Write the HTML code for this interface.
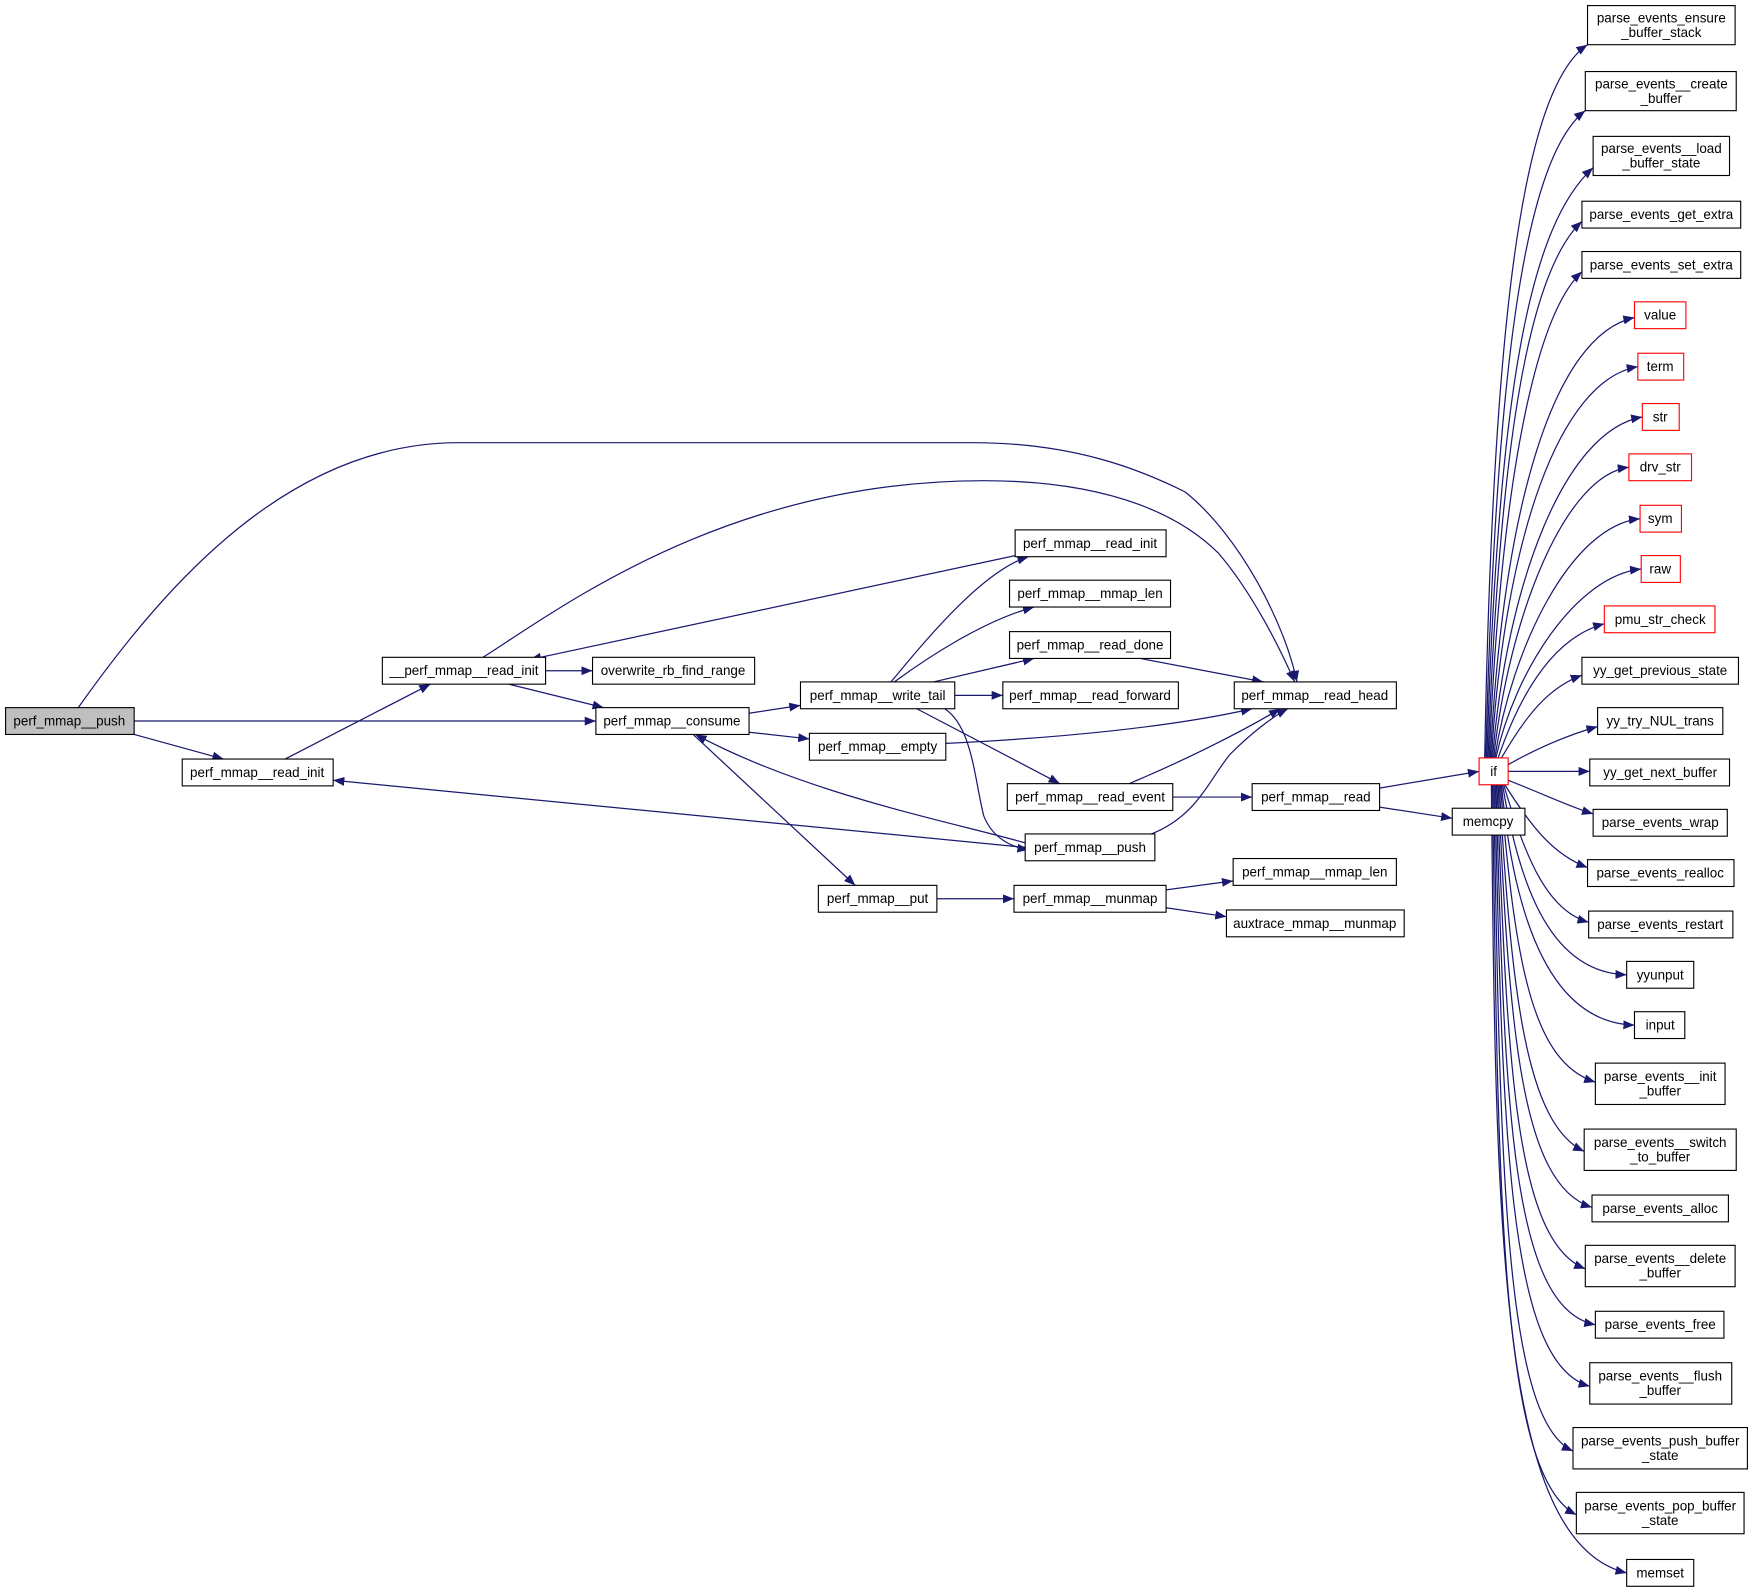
<!DOCTYPE html>
<html><head><meta charset="utf-8"><style>
html,body{margin:0;padding:0;background:#fff;}
svg{display:block;}
text{font-family:"Liberation Sans",sans-serif;font-size:12px;fill:#000;}
.e{fill:none;stroke:#191970;stroke-width:1.1;}
</style></head><body>
<svg width="1753" height="1593" viewBox="0 0 1568 1425" preserveAspectRatio="none" xmlns="http://www.w3.org/2000/svg">
<defs><marker id="a" viewBox="0 0 10 8" refX="10" refY="4" markerWidth="10" markerHeight="8" markerUnits="userSpaceOnUse" orient="auto"><path d="M0,0 L10,4 L0,8 z" fill="#191970"/></marker></defs>
<g class="e" marker-end="url(#a)">
<path d="M70,633 C150,520 260,396 410,396 L870,396 C960,396 1020,420 1060,440 C1110,480 1150,560 1160,610"/>
<path d="M432,588 C500,545 650,430 880,430 C1000,430 1060,465 1090,495 C1120,530 1145,580 1158,610"/>
<path d="M120,645 L533,645"/>
<path d="M120,657 L200,679"/>
<path d="M255,679 L385,612"/>
<path d="M488,600 L530,600"/>
<path d="M455,612 L540,633"/>
<path d="M908,497 L474,590"/>
<path d="M670,638 L716,631"/>
<path d="M670,655 L724,661"/>
<path d="M620,657 L765,792"/>
<path d="M917,754 C850,735 720,710 622,657"/>
<path d="M917,758 L298,698"/>
<path d="M797,610 C830,570 880,510 920,498"/>
<path d="M800,610 C830,588 880,555 925,543"/>
<path d="M835,610 L925,589"/>
<path d="M854,622 L897,622"/>
<path d="M820,634 L948,701"/>
<path d="M845,634 C870,650 872,700 880,730 C888,750 905,758 920,760"/>
<path d="M1020,589 L1130,610"/>
<path d="M846,665 C950,660 1050,650 1120,634"/>
<path d="M1010,701 C1060,680 1110,655 1145,634"/>
<path d="M1030,746 C1070,730 1080,700 1100,675 C1120,655 1140,640 1152,634"/>
<path d="M1049,713 L1120,713"/>
<path d="M1234,705 L1323,690"/>
<path d="M1234,722 L1299,732"/>
<path d="M838,804 L907,804"/>
<path d="M1043,796 L1103,788"/>
<path d="M1043,812 L1097,820"/>
<!-- from if -->
<path d="M1328,678 C1335,300 1360,80 1420,40"/>
<path d="M1329,678 C1338,320 1365,140 1418,99"/>
<path d="M1330,678 C1340,340 1370,200 1425,150"/>
<path d="M1331,678 C1342,380 1370,240 1415,198"/>
<path d="M1332,678 C1343,420 1375,280 1415,243"/>
<path d="M1333,678 C1345,450 1390,300 1462,284"/>
<path d="M1334,678 C1346,480 1395,340 1465,328"/>
<path d="M1335,678 C1348,520 1400,385 1469,373"/>
<path d="M1336,678 C1350,550 1400,425 1457,418"/>
<path d="M1337,678 C1352,580 1405,470 1467,464"/>
<path d="M1338,678 C1355,600 1410,515 1468,509"/>
<path d="M1340,678 C1360,620 1390,570 1435,558"/>
<path d="M1343,678 C1365,640 1385,615 1415,604"/>
<path d="M1349,684 C1370,672 1400,658 1429,650"/>
<path d="M1349,690 L1422,690"/>
<path d="M1349,698 C1380,710 1405,722 1425,728"/>
<path d="M1346,702 C1370,740 1390,765 1420,776"/>
<path d="M1345,702 C1365,770 1385,815 1421,825"/>
<path d="M1344,702 C1360,800 1390,870 1455,872"/>
<path d="M1343,702 C1355,830 1390,915 1462,917"/>
<path d="M1342,702 C1355,860 1370,950 1427,968"/>
<path d="M1341,702 C1352,890 1365,1005 1417,1030"/>
<path d="M1340,702 C1350,920 1360,1060 1424,1080"/>
<path d="M1339,702 C1348,950 1355,1110 1418,1135"/>
<path d="M1338,702 C1346,980 1350,1170 1427,1185"/>
<path d="M1337,702 C1344,1010 1348,1220 1422,1240"/>
<path d="M1336,702 C1342,1040 1345,1270 1407,1298"/>
<path d="M1335,702 C1340,1070 1342,1320 1410,1355"/>
<path d="M1334,702 C1338,1100 1340,1380 1455,1407"/>
</g>
<g fill="#fff" stroke="#000" stroke-width="1">
<rect x="5" y="633" width="115" height="24" fill="#bfbfbf"/>
<rect x="163" y="679" width="135" height="24"/>
<rect x="342" y="588" width="146" height="24"/>
<rect x="530" y="588" width="145" height="24"/>
<rect x="533" y="633" width="137" height="24"/>
<rect x="716" y="610" width="138" height="24"/>
<rect x="724" y="656" width="122" height="24"/>
<rect x="732" y="792" width="106" height="24"/>
<rect x="908" y="474" width="135" height="24"/>
<rect x="903" y="519" width="144" height="24"/>
<rect x="903" y="565" width="144" height="24"/>
<rect x="897" y="610" width="157" height="24"/>
<rect x="901" y="701" width="148" height="24"/>
<rect x="917" y="746" width="116" height="24"/>
<rect x="907" y="792" width="136" height="24"/>
<rect x="1104" y="610" width="145" height="24"/>
<rect x="1120" y="701" width="114" height="24"/>
<rect x="1103" y="768" width="146" height="24"/>
<rect x="1097" y="814" width="159" height="24"/>
<rect x="1299" y="723" width="65" height="24"/>
<rect x="1323" y="678" width="26" height="24" stroke="#f00"/>
<rect x="1420" y="5" width="132" height="35"/>
<rect x="1418" y="64" width="135" height="35"/>
<rect x="1425" y="122" width="122" height="35"/>
<rect x="1415" y="180" width="142" height="24"/>
<rect x="1415" y="225" width="142" height="24"/>
<rect x="1462" y="270" width="46" height="24" stroke="#f00"/>
<rect x="1465" y="316" width="41" height="24" stroke="#f00"/>
<rect x="1469" y="361" width="33" height="24" stroke="#f00"/>
<rect x="1457" y="406" width="56" height="24" stroke="#f00"/>
<rect x="1467" y="452" width="37" height="24" stroke="#f00"/>
<rect x="1468" y="497" width="35" height="24" stroke="#f00"/>
<rect x="1435" y="542" width="99" height="24" stroke="#f00"/>
<rect x="1415" y="588" width="140" height="24"/>
<rect x="1429" y="633" width="112" height="24"/>
<rect x="1422" y="679" width="125" height="24"/>
<rect x="1425" y="724" width="120" height="24"/>
<rect x="1420" y="769" width="131" height="24"/>
<rect x="1421" y="815" width="129" height="24"/>
<rect x="1455" y="860" width="60" height="24"/>
<rect x="1462" y="905" width="45" height="24"/>
<rect x="1427" y="951" width="116" height="37"/>
<rect x="1417" y="1010" width="136" height="37"/>
<rect x="1424" y="1069" width="122" height="24"/>
<rect x="1418" y="1114" width="134" height="37"/>
<rect x="1427" y="1173" width="115" height="24"/>
<rect x="1422" y="1219" width="127" height="37"/>
<rect x="1407" y="1277" width="156" height="37"/>
<rect x="1410" y="1335" width="150" height="37"/>
<rect x="1455" y="1395" width="60" height="24"/>
</g>
<g text-anchor="middle">
<text x="62" y="649">perf_mmap__push</text>
<text x="230" y="695">perf_mmap__read_init</text>
<text x="415" y="604">__perf_mmap__read_init</text>
<text x="602" y="604">overwrite_rb_find_range</text>
<text x="601" y="649">perf_mmap__consume</text>
<text x="785" y="626">perf_mmap__write_tail</text>
<text x="785" y="672">perf_mmap__empty</text>
<text x="785" y="808">perf_mmap__put</text>
<text x="975" y="490">perf_mmap__read_init</text>
<text x="975" y="535">perf_mmap__mmap_len</text>
<text x="975" y="581">perf_mmap__read_done</text>
<text x="975" y="626">perf_mmap__read_forward</text>
<text x="975" y="717">perf_mmap__read_event</text>
<text x="975" y="762">perf_mmap__push</text>
<text x="975" y="808">perf_mmap__munmap</text>
<text x="1176" y="626">perf_mmap__read_head</text>
<text x="1177" y="717">perf_mmap__read</text>
<text x="1176" y="784">perf_mmap__mmap_len</text>
<text x="1176" y="830">auxtrace_mmap__munmap</text>
<text x="1331" y="739">memcpy</text>
<text x="1336" y="694">if</text>
<text x="1486" y="20">parse_events_ensure</text><text x="1486" y="33">_buffer_stack</text>
<text x="1486" y="79">parse_events__create</text><text x="1486" y="92">_buffer</text>
<text x="1486" y="137">parse_events__load</text><text x="1486" y="150">_buffer_state</text>
<text x="1486" y="196">parse_events_get_extra</text>
<text x="1486" y="241">parse_events_set_extra</text>
<text x="1485" y="286">value</text>
<text x="1485" y="332">term</text>
<text x="1485" y="377">str</text>
<text x="1485" y="422">drv_str</text>
<text x="1485" y="468">sym</text>
<text x="1485" y="513">raw</text>
<text x="1485" y="558">pmu_str_check</text>
<text x="1485" y="604">yy_get_previous_state</text>
<text x="1485" y="649">yy_try_NUL_trans</text>
<text x="1485" y="695">yy_get_next_buffer</text>
<text x="1485" y="740">parse_events_wrap</text>
<text x="1485" y="785">parse_events_realloc</text>
<text x="1485" y="831">parse_events_restart</text>
<text x="1485" y="876">yyunput</text>
<text x="1485" y="921">input</text>
<text x="1485" y="967">parse_events__init</text><text x="1485" y="980">_buffer</text>
<text x="1485" y="1026">parse_events__switch</text><text x="1485" y="1039">_to_buffer</text>
<text x="1485" y="1085">parse_events_alloc</text>
<text x="1485" y="1130">parse_events__delete</text><text x="1485" y="1143">_buffer</text>
<text x="1485" y="1189">parse_events_free</text>
<text x="1485" y="1235">parse_events__flush</text><text x="1485" y="1248">_buffer</text>
<text x="1485" y="1293">parse_events_push_buffer</text><text x="1485" y="1306">_state</text>
<text x="1485" y="1351">parse_events_pop_buffer</text><text x="1485" y="1364">_state</text>
<text x="1485" y="1411">memset</text>
</g>
</svg>
</body></html>
